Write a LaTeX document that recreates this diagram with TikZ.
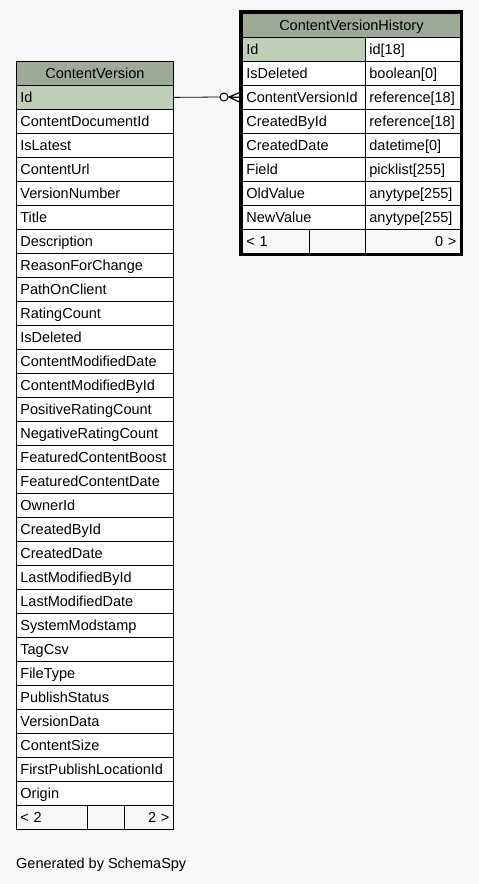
\documentclass[tikz,border=0pt]{standalone}
\usepackage{fontspec}
\setmainfont{Liberation Sans}
\usetikzlibrary{calc,positioning}
\definecolor{hdrfill}{HTML}{9BAB96}
\definecolor{keyfill}{HTML}{BED1B8}
\definecolor{bgfill}{HTML}{F7F7F7}
\newcommand{\tabfont}{\fontsize{14.5bp}{17bp}\selectfont}
\tikzset{
	cell/.style={draw, fill=white, line width=0.8bp, anchor=north west,
		inner xsep=4bp, inner ysep=0pt, minimum height=24bp,
		text width=#1, align=left, text height=10.4bp, text depth=0pt, font=\tabfont},
	rcell/.style={cell=#1, align=right},
	hdr/.style={draw, fill=hdrfill, line width=0.8bp, anchor=north west,
		inner sep=0pt, minimum width=#1, minimum height=24bp,
		text height=10.4bp, text depth=0pt, font=\tabfont},
}

\begin{document}
\begin{tikzpicture}[x=1bp,y=-1bp]
	\fill[bgfill] (0,0) rectangle (479,884);
	\useasboundingbox (0,0) rectangle (479,884);

	% ContentVersion
	\node[hdr=157bp] (cv) at (16,61) {ContentVersion};
	\node[cell=149bp, fill=keyfill] (cv-1) at (16,85) {Id};
	\foreach \name [count=\i from 2] in {ContentDocumentId, IsLatest, ContentUrl,
		VersionNumber, Title, Description, ReasonForChange, PathOnClient,
		RatingCount, IsDeleted, ContentModifiedDate, ContentModifiedById,
		PositiveRatingCount, NegativeRatingCount, FeaturedContentBoost,
		FeaturedContentDate, OwnerId, CreatedById, CreatedDate, LastModifiedById,
		LastModifiedDate, SystemModstamp, TagCsv, FileType, PublishStatus,
		VersionData, ContentSize, FirstPublishLocationId, Origin}
		\node[cell=149bp] (cv-\i) at (16,61+24*\i) {\name};
	\node[cell=63bp, fill=bgfill] (cv-prev) at (16,805) {< 2};
	\node[cell=29bp, fill=bgfill] (cv-mid) at (87,805) {};
	\node[rcell=41bp, fill=bgfill] (cv-next) at (124,805) {2 >};

	% ContentVersionHistory
	\node[hdr=218bp] (cvh) at (242,13) {ContentVersionHistory};
	\node[cell=115bp, fill=keyfill] (cvh-1) at (242,37) {Id};
	\node[cell=87bp] (cvh-t1) at (365,37) {id[18]};
	\foreach \name/\type [count=\i from 2] in {IsDeleted/boolean[0],
		ContentVersionId/reference[18], CreatedById/reference[18],
		CreatedDate/datetime[0], Field/picklist[255], OldValue/anytype[255],
		NewValue/anytype[255]} {
		\node[cell=115bp] (cvh-\i) at (242,13+24*\i) {\name};
		\node[cell=87bp] (cvh-t\i) at (365,13+24*\i) {\type};
	}
	\node[cell=59bp, fill=bgfill] (cvh-prev) at (242,229) {< 1};
	\node[cell=48bp, fill=bgfill] (cvh-mid) at (309,229) {};
	\node[rcell=87bp, fill=bgfill] (cvh-next) at (365,229) {0 >};
	\draw[line width=3bp] (240.5,11.5) rectangle (461.5,254.5);

	% relationship
	\node[circle, draw, fill=white, line width=1bp, inner sep=0pt,
		minimum size=8bp] (ring) at (224,97) {};
	\coordinate (foot) at (229,97);
	\draw[line width=0.8bp] (cv-1.east) -- (ring.west);
	\draw[line width=1bp] (ring.east) -- (foot);
	\draw[line width=1.2bp] ($(cvh-3.west)+(-2,-5)$) -- (foot) -- ($(cvh-3.west)+(-2,5)$)
		(foot) -- ($(cvh-3.west)+(-2,0)$);

	\node[anchor=base west, inner sep=0pt, font=\tabfont] (gen) at (16,868.5) {Generated by SchemaSpy};
\end{tikzpicture}
\end{document}
